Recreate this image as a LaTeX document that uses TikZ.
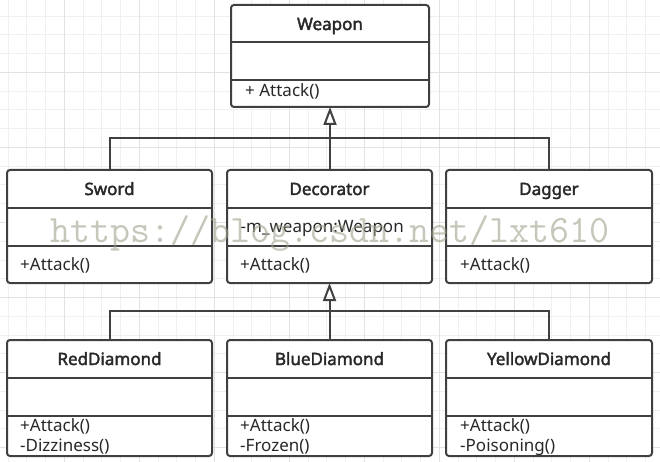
\documentclass[tikz,border=0pt]{standalone}
\usepackage{fontspec}
\setmainfont{Noto Sans}
\newfontfamily\titlefont{Noto Sans}[FakeBold=2.2]
\usetikzlibrary{arrows.meta}
\definecolor{gridminor}{RGB}{240,240,240}
\definecolor{gridmajor}{RGB}{226,226,226}
\definecolor{boxline}{RGB}{64,64,64}
\definecolor{txt}{RGB}{40,40,40}
\definecolor{wm}{RGB}{160,160,140}
\begin{document}
\begin{tikzpicture}[x=1pt,y=-1pt,
  classbox/.style={draw=boxline, line width=2pt, rounded corners=3pt, fill=white, inner sep=0pt, outer sep=0pt},
  divider/.style={draw=boxline, line width=2pt},
  conn/.style={draw=boxline, line width=2pt},
  inherit/.style={conn, -{Triangle[open, length=18pt, width=13pt, line width=2pt]}},
  title/.style={font=\titlefont\fontsize{17}{20}\selectfont, text=txt, inner sep=0pt, anchor=base},
  member/.style={font=\fontsize{17}{20}\selectfont, text=txt, inner sep=0pt, anchor=base west},
  watermark/.style={font=\ttfamily\fontsize{38.8}{40}\selectfont, text=wm, opacity=0.6, inner sep=0pt, anchor=base west}
]
\useasboundingbox (0,0) rectangle (660,462);
\fill[white] (0,0) rectangle (660,462);
% grid
\foreach \i in {0,...,34} \draw[gridminor, line width=1pt] ({8+18.75*\i},0) -- ({8+18.75*\i},462);
\foreach \i in {0,...,25} \draw[gridminor, line width=1pt] (0,{-2.5+18.75*\i}) -- (660,{-2.5+18.75*\i});
\foreach \i in {0,...,7} \draw[gridmajor, line width=1pt] ({64.25+75*\i},0) -- ({64.25+75*\i},462);
\foreach \i in {1,...,6} \draw[gridmajor, line width=1pt] (0,{-2.5+75*\i}) -- (660,{-2.5+75*\i});

% Weapon
\node[classbox, minimum width=198, minimum height=102] (weapon) at (330,56) {};
\draw[divider] (231,42) -- (429,42);
\draw[divider] (231,80) -- (429,80);
\node[title] (weaponT) at (330,30) {Weapon};
\node[member] (weaponM) at (245,97) {+ Attack()};

% Sword
\node[classbox, minimum width=205, minimum height=113] (sword) at (109.5,226.5) {};
\draw[divider] (7,208) -- (212,208);
\draw[divider] (7,246) -- (212,246);
\node[title] (swordT) at (109.5,195) {Sword};
\node[member] (swordM) at (20,270) {+Attack()};

% Decorator
\node[classbox, minimum width=205, minimum height=113] (deco) at (329.5,226.5) {};
\draw[divider] (227,208) -- (432,208);
\draw[divider] (227,246) -- (432,246);
\node[title] (decoT) at (329.5,195) {Decorator};
\node[member] (decoA) at (240.5,233) {-m\_weapon:Weapon};
\node[member] (decoM) at (240,270) {+Attack()};

% Dagger
\node[classbox, minimum width=206, minimum height=113] (dagger) at (549,226.5) {};
\draw[divider] (446,208) -- (652,208);
\draw[divider] (446,246) -- (652,246);
\node[title] (daggerT) at (549,195) {Dagger};
\node[member] (daggerM) at (460,270) {+Attack()};

% RedDiamond
\node[classbox, minimum width=205, minimum height=116] (red) at (109.5,398) {};
\draw[divider] (7,378) -- (212,378);
\draw[divider] (7,416) -- (212,416);
\node[title] (redT) at (109.5,365) {RedDiamond};
\node[member] (redM1) at (20,431.5) {+Attack()};
\node[member] (redM2) at (20,451.5) {-Dizziness()};

% BlueDiamond
\node[classbox, minimum width=205, minimum height=116] (blue) at (329.5,398) {};
\draw[divider] (227,378) -- (432,378);
\draw[divider] (227,416) -- (432,416);
\node[title] (blueT) at (329.5,365) {BlueDiamond};
\node[member] (blueM1) at (240,431.5) {+Attack()};
\node[member] (blueM2) at (240,451.5) {-Frozen()};

% YellowDiamond
\node[classbox, minimum width=206, minimum height=116] (yellow) at (549,398) {};
\draw[divider] (446,378) -- (652,378);
\draw[divider] (446,416) -- (652,416);
\node[title] (yellowT) at (549,365) {YellowDiamond};
\node[member] (yellowM1) at (460,431.5) {+Attack()};
\node[member] (yellowM2) at (460,451.5) {-Poisoning()};

% connectors
\coordinate (bus1) at (330,138);
\coordinate (bus2) at (329.5,311);
\draw[conn] (sword.north) -- (sword.north |- bus1) -- (dagger.north |- bus1) -- (dagger.north);
\draw[inherit] (deco.north -| weapon.south) -- (weapon.south);
\draw[conn] (red.north) -- (red.north |- bus2) -- (yellow.north |- bus2) -- (yellow.north);
\draw[inherit] (blue.north) -- (deco.south);

% watermark
\node[watermark] (wmark) at (50,242) {https://blog.csdn.net/lxt610};
\end{tikzpicture}
\end{document}
